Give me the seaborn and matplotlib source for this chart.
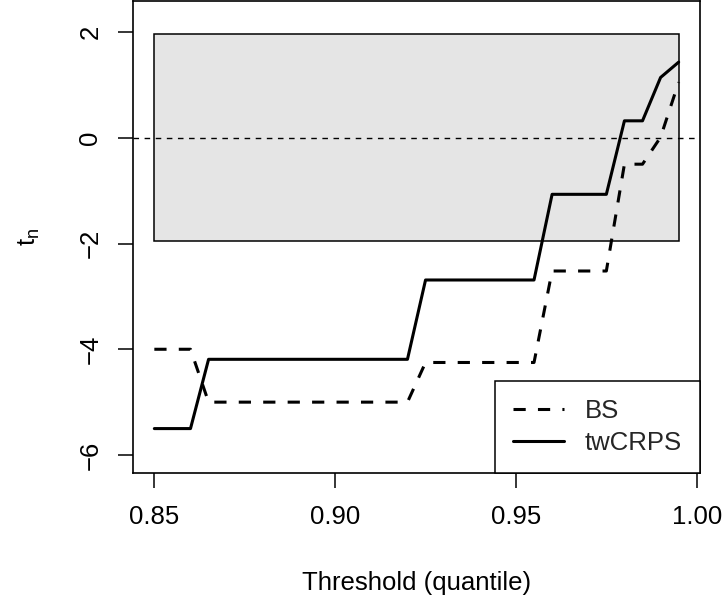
import numpy as np
import pandas as pd
import matplotlib
matplotlib.use("Agg")
import matplotlib.pyplot as plt
from matplotlib.patches import Rectangle
import seaborn as sns

# ---- data ----
thresholds = [0.85, 0.855, 0.86, 0.865, 0.87, 0.875, 0.88, 0.885, 0.89, 0.895,
              0.90, 0.905, 0.91, 0.915, 0.92, 0.925, 0.93, 0.935, 0.94, 0.945,
              0.95, 0.955, 0.96, 0.965, 0.97, 0.975, 0.98, 0.985, 0.99, 0.995]
bs = [-4.0, -4.0, -4.0, -5.0, -5.0, -5.0, -5.0, -5.0, -5.0, -5.0,
      -5.0, -5.0, -5.0, -5.0, -5.0, -4.25, -4.25, -4.25, -4.25, -4.25,
      -4.25, -4.25, -2.52, -2.52, -2.52, -2.52, -0.5, -0.5, 0.01, 1.05]
twcrps = [-5.5, -5.5, -5.5, -4.19, -4.19, -4.19, -4.19, -4.19, -4.19, -4.19,
          -4.19, -4.19, -4.19, -4.19, -4.19, -2.69, -2.69, -2.69, -2.69, -2.69,
          -2.69, -2.69, -1.07, -1.07, -1.07, -1.07, 0.32, 0.32, 1.14, 1.43]
series_names = ["BS", "twCRPS"]
band = (-1.96, 1.96)
xticks = [0.85, 0.90, 0.95, 1.00]
xticklabels = ["0.85", "0.90", "0.95", "1.00"]
yticks = [-6, -4, -2, 0, 2]
yticklabels = ["\u22126", "\u22124", "\u22122", "0", "2"]

df = pd.concat([
    pd.DataFrame({"threshold": thresholds, "tn": bs, "score": series_names[0]}),
    pd.DataFrame({"threshold": thresholds, "tn": twcrps, "score": series_names[1]}),
])

sns.set_theme(style="ticks")
plt.rcParams["font.family"] = ["Liberation Sans", "DejaVu Sans"]
plt.rcParams["mathtext.fontset"] = "custom"
plt.rcParams["mathtext.rm"] = "Liberation Sans"
plt.rcParams["mathtext.it"] = "Liberation Sans"
plt.rcParams["mathtext.default"] = "regular"

W, H = 724, 603
fig = plt.figure(figsize=(W / 100, H / 100), dpi=100)
ax = fig.add_axes([133 / W, 1 - 473 / H, (700 - 133) / W, (473 - 1) / H])

fs = 18.5
lw = 2.2

# shaded acceptance band
ax.add_patch(Rectangle((thresholds[0], band[0]), thresholds[-1] - thresholds[0],
                       band[1] - band[0], facecolor="#e5e5e5", edgecolor="black",
                       linewidth=1.1, zorder=1))
ax.axhline(0, color="black", linewidth=1.0, linestyle=(0, (4, 4)), zorder=2)

sns.lineplot(data=df[df["score"] == "BS"], x="threshold", y="tn", ax=ax,
             color="black", linewidth=lw, linestyle=(0, (4, 4)), label="BS",
             zorder=3, legend=False)
sns.lineplot(data=df[df["score"] == "twCRPS"], x="threshold", y="tn", ax=ax,
             color="black", linewidth=lw, linestyle="-", label="twCRPS",
             zorder=3, legend=False)

ax.set_xlim(0.8441, 1.0009)
ax.set_ylim(-6.34, 2.586)
ax.set_xticks(xticks)
ax.set_xticklabels(xticklabels)
ax.set_yticks(yticks)
ax.set_yticklabels(yticklabels, rotation=90, va="center")
ax.tick_params(axis="both", direction="out", length=11, width=1.1,
               color="black", labelsize=fs, labelcolor="black")
ax.tick_params(axis="x", pad=12)
ax.tick_params(axis="y", pad=11)
for s in ax.spines.values():
    s.set_visible(True)
    s.set_color("black")
    s.set_linewidth(1.2)

ax.set_xlabel("Threshold (quantile)", fontsize=fs, color="black", labelpad=30)
ax.set_ylabel("$t_n$", fontsize=fs, color="black", labelpad=26)

leg = ax.legend(loc="lower right", bbox_to_anchor=(1, 0), borderaxespad=0,
                fontsize=fs, frameon=True, fancybox=False, framealpha=1,
                edgecolor="black", handlelength=2.0, handletextpad=0.8,
                labelspacing=0.32, borderpad=0.7)
leg.get_frame().set_linewidth(1.1)

fig.savefig("out.png", dpi=100)
